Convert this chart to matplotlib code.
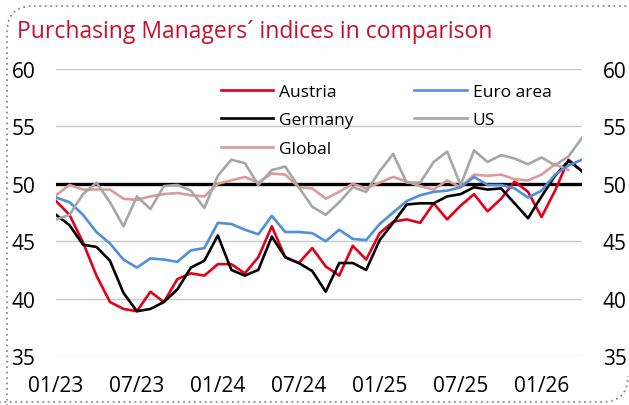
import matplotlib
matplotlib.use("Agg")
import matplotlib.pyplot as plt
import numpy as np
from matplotlib.path import Path
from matplotlib.patches import PathPatch

# PMI values, monthly 01/23 - 04/26
austria = [48.5, 47.3, 44.9, 42.0, 39.7, 39.1, 38.9, 40.6, 39.7, 41.7,
           42.2, 42.0, 43.0, 43.0, 42.2, 43.6, 46.3, 43.6, 43.1, 44.4,
           42.8, 42.0, 44.6, 43.4, 45.7, 46.7, 46.9, 46.6, 48.3, 46.9,
           48.1, 49.1, 47.6, 48.7, 50.2, 49.3, 47.1, 49.4, 52.1, 51.1]
euro_area = [48.8, 48.4, 47.3, 45.8, 44.8, 43.4, 42.7, 43.5, 43.4, 43.2,
             44.2, 44.4, 46.6, 46.5, 46.0, 45.6, 47.2, 45.8, 45.8, 45.7,
             45.0, 46.0, 45.2, 45.1, 46.5, 47.5, 48.5, 49.0, 49.3, 49.4,
             49.7, 50.6, 49.9, 49.9, 49.6, 48.8, 49.4, 50.8, 51.6, 52.1]
germany = [47.3, 46.4, 44.7, 44.5, 43.3, 40.5, 38.9, 39.1, 39.7, 40.8,
           42.7, 43.3, 45.5, 42.5, 42.0, 42.5, 45.4, 43.6, 43.1, 42.4,
           40.6, 43.1, 43.1, 42.5, 45.1, 46.6, 48.2, 48.3, 48.3, 48.9,
           49.1, 49.7, 49.5, 49.6, 48.3, 47.0, 48.9, 50.7, 52.0, 51.1]
us = [46.9, 47.3, 49.1, 50.1, 48.4, 46.3, 48.9, 47.8, 49.8, 49.9,
      49.4, 47.9, 50.7, 52.1, 51.8, 49.9, 51.2, 51.5, 49.7, 48.0,
      47.3, 48.4, 49.7, 49.3, 51.1, 52.6, 50.1, 50.1, 51.9, 52.8,
      49.9, 52.9, 51.9, 52.5, 52.2, 51.7, 52.3, 51.6, 52.4, 54.0]
global_pmi = [49.0, 49.9, 49.5, 49.5, 49.5, 48.7, 48.6, 48.9, 49.1, 49.2,
              49.0, 48.9, 50.0, 50.3, 50.6, 50.1, 50.9, 50.8, 49.7, 49.6,
              48.7, 49.3, 50.0, 49.6, 50.1, 50.6, 50.2, 49.8, 49.5, 50.3,
              49.7, 50.8, 50.7, 50.8, 50.4, 50.3, 50.8, 51.7, 51.2]

tick_labels = ["01/23", "07/23", "01/24", "07/24", "01/25", "07/25", "01/26"]
y_ticks = [35, 40, 45, 50, 55, 60]

plt.rcParams["font.family"] = ["Open Sans", "DejaVu Sans"]

W, H = 629, 406
fig = plt.figure(figsize=(W / 100, H / 100), dpi=100)
ax = fig.add_axes([56 / W, 1 - 357 / H, (582 - 56) / W, (357 - 70) / H])

x = np.arange(len(austria))
ax.axhline(50, color="black", lw=2.4, zorder=2)
kw = dict(lw=1.9, solid_joinstyle="round", zorder=3)
ax.plot(x, austria, color="#e2001a", label="Austria", **kw)
ax.plot(x, germany, color="black", label="Germany", **kw)
ax.plot(np.arange(len(global_pmi)), global_pmi, color="#dc9a98", label="Global", **kw)
ax.plot(x, euro_area, color="#4f8fdc", label="Euro area", **kw)
ax.plot(x, us, color="#a6a6a6", label="US", **kw)

ax.set_xlim(0, len(austria) - 1)
ax.set_ylim(35, 60)
ax.set_yticks(y_ticks)
ax.set_xticks(np.arange(0, len(austria), 6))
ax.set_xticklabels(tick_labels)
ax.grid(axis="y", color="#c8c8c8", lw=1)
ax.set_axisbelow(True)
for s in ax.spines.values():
    s.set_visible(False)
ax.tick_params(axis="y", length=0, labelsize=15, pad=15, labelright=True)
ax.tick_params(axis="x", length=0, labelsize=15, pad=14)

ax.legend(loc="upper left", bbox_to_anchor=(221 / W, 1 - 85 / H),
          bbox_transform=fig.transFigure, ncol=2, frameon=False,
          fontsize=12.5, handlelength=3.0, handletextpad=0.35,
          columnspacing=3.5, labelspacing=0.7, borderpad=0, borderaxespad=0)

fig.text(17 / W, 1 - 38 / H, "Purchasing Managers\u00b4 indices in comparison",
         color="#c8102e", fontsize=16.5, va="baseline", ha="left")

# dotted frame with rounded top-left and bottom-right corners
r = 26
pts = [(7, H + 5), (7, 7 + r), (7, 7), (7 + r, 7), (W + 5, 7)]
codes = [Path.MOVETO, Path.LINETO, Path.CURVE3, Path.CURVE3, Path.LINETO]
frame = Path([(px / W, 1 - py / H) for px, py in pts], codes)
fig.add_artist(PathPatch(frame, fill=False, ec="#8c8c8c", lw=1.3, ls=(0, (1, 2)),
                         transform=fig.transFigure, clip_on=False))
pts2 = [(-5, 403), (W - 1 - r, 403), (W - 1, 403), (W - 1, 403 - r)]
codes2 = [Path.MOVETO, Path.LINETO, Path.CURVE3, Path.CURVE3]
frame2 = Path([(px / W, 1 - py / H) for px, py in pts2], codes2)
fig.add_artist(PathPatch(frame2, fill=False, ec="#8c8c8c", lw=1.3, ls=(0, (1, 2)),
                         transform=fig.transFigure, clip_on=False))

fig.savefig("out.png", dpi=100)
